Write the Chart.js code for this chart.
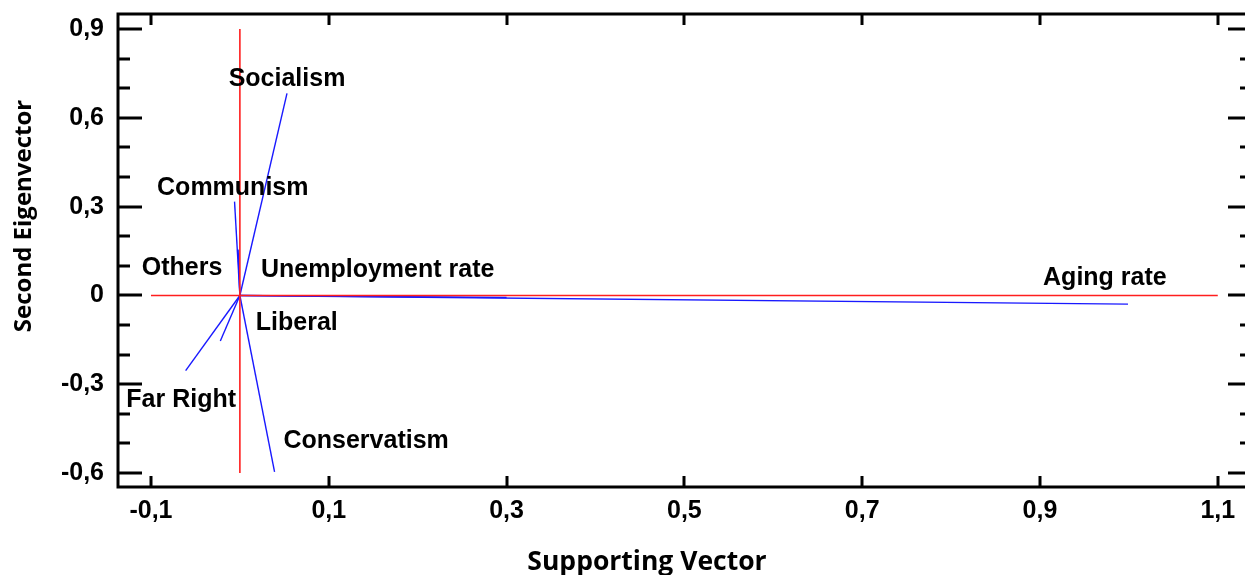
<!DOCTYPE html>
<html><head><meta charset="utf-8">
<script src="https://cdn.jsdelivr.net/npm/chart.js@4.4.0/dist/chart.umd.min.js"></script>
<style>html,body{margin:0;padding:0;background:#fff;overflow:hidden;width:1245px;height:575px}canvas{display:block}</style>
</head><body>
<canvas id="c" width="1260" height="575" style="width:1260px;height:575px"></canvas>
<script>
// ---- data ----
const variables = ['Socialism', 'Communism', 'Others', 'Unemployment rate', 'Aging rate', 'Liberal', 'Far Right', 'Conservatism'];
const supportingVector = [0.053, -0.006, -0.002, 0.300, 0.999, -0.022, -0.061, 0.039];
const secondEigenvector = [0.683, 0.317, 0.155, -0.007, -0.029, -0.154, -0.254, -0.596];
const labelX = [0.053, -0.008, -0.065, 0.155, 0.973, 0.064, -0.066, 0.142];
const labelY = [0.738, 0.368, 0.098, 0.091, 0.064, -0.088, -0.346, -0.485];
const xTicks = [-0.1, 0.1, 0.3, 0.5, 0.7, 0.9, 1.1];
const yTicks = [-0.6, -0.3, 0, 0.3, 0.6, 0.9];
const yMinorTicks = [-0.5, -0.4, -0.2, -0.1, 0.1, 0.2, 0.4, 0.5, 0.7, 0.8];
const xRefLine = [-0.1, 1.1];
const yRefLine = [-0.6, 0.9];
const xAxisTitle = 'Supporting Vector';
const yAxisTitle = 'Second Eigenvector';

const fmt = v => (Math.abs(v) < 1e-9 ? '0' : v.toFixed(1).replace('.', ','));

const datasets = [
  { data: [{x: xRefLine[0], y: 0}, {x: xRefLine[1], y: 0}], borderColor: 'rgb(255,30,30)', borderWidth: 1.6 },
  { data: [{x: 0, y: yRefLine[0]}, {x: 0, y: yRefLine[1]}], borderColor: 'rgb(255,30,30)', borderWidth: 1.6 }
];
variables.forEach((v, i) => {
  datasets.push({
    label: v,
    data: [{x: 0, y: 0}, {x: supportingVector[i], y: secondEigenvector[i]}],
    borderColor: 'rgb(25,25,255)', borderWidth: 1.4
  });
});
datasets.forEach(d => { d.showLine = true; d.pointRadius = 0; d.fill = false; });

const framePlugin = {
  id: 'frame',
  afterDatasetsDraw(chart) {
    const ctx = chart.ctx, a = chart.chartArea;
    const xs = chart.scales.x, ys = chart.scales.y;
    ctx.save();
    // vector labels
    ctx.fillStyle = '#000';
    ctx.font = 'bold 25px "Liberation Sans", Arial, sans-serif';
    ctx.textAlign = 'center'; ctx.textBaseline = 'middle';
    variables.forEach((v, i) => {
      ctx.fillText(v, xs.getPixelForValue(labelX[i]), ys.getPixelForValue(labelY[i]) + 2);
    });
    // frame
    ctx.strokeStyle = '#000'; ctx.lineWidth = 3; ctx.lineCap = 'butt';
    ctx.beginPath();
    ctx.moveTo(a.right, a.top); ctx.lineTo(a.left, a.top); ctx.lineTo(a.left, a.bottom); ctx.lineTo(a.right, a.bottom); ctx.lineTo(a.right, a.top);
    ctx.stroke();
    ctx.beginPath();
    xTicks.forEach(t => {
      const p = Math.round(xs.getPixelForValue(t));
      ctx.moveTo(p, a.top); ctx.lineTo(p, a.top + 11);
      ctx.moveTo(p, a.bottom); ctx.lineTo(p, a.bottom - 11);
    });
    yTicks.forEach(t => {
      const p = Math.round(ys.getPixelForValue(t));
      ctx.moveTo(a.left, p); ctx.lineTo(a.left + 24, p);
      ctx.moveTo(a.right, p); ctx.lineTo(a.right - 24, p);
    });
    yMinorTicks.forEach(t => {
      const p = Math.round(ys.getPixelForValue(t));
      ctx.moveTo(a.left, p); ctx.lineTo(a.left + 12, p);
      ctx.moveTo(a.right, p); ctx.lineTo(a.right - 12, p);
    });
    ctx.stroke();
    // axis titles
    ctx.font = 'bold 26.5px "Open Sans", sans-serif';
    ctx.textAlign = 'center'; ctx.textBaseline = 'alphabetic';
    ctx.fillText(xAxisTitle, 647, 570);
    ctx.save();
    ctx.translate(31, 216); ctx.rotate(-Math.PI / 2);
    ctx.font = 'bold 24px "Open Sans", sans-serif';
    ctx.fillText(yAxisTitle, 0, 0);
    ctx.restore();
    ctx.restore();
  }
};

const tickFont = { family: '"Liberation Sans", Arial, sans-serif', weight: 'bold', size: 25 };

new Chart(document.getElementById('c'), {
  type: 'scatter',
  data: { datasets },
  options: {
    responsive: false, animation: false,
    layout: { padding: { left: 0, top: 14, right: 8, bottom: 0 } },
    plugins: { legend: { display: false }, tooltip: { enabled: false } },
    scales: {
      x: {
        type: 'linear', min: -0.1371, max: 1.1385,
        grid: { display: false, drawTicks: false }, border: { display: false },
        ticks: { padding: 9, color: '#000', font: tickFont, callback: v => fmt(v), maxRotation: 0 },
        afterBuildTicks: s => { s.ticks = xTicks.map(v => ({ value: v })); },
        afterFit: s => { s.height = 88; s.paddingLeft = 0; s.paddingRight = 0; }
      },
      y: {
        type: 'linear', min: -0.647, max: 0.951,
        grid: { display: false, drawTicks: false }, border: { display: false },
        ticks: { padding: 14, color: '#000', font: tickFont, callback: v => fmt(v) },
        afterBuildTicks: s => { s.ticks = yTicks.map(v => ({ value: v })); },
        afterFit: s => { s.width = 118; s.paddingTop = 0; s.paddingBottom = 0; }
      }
    }
  },
  plugins: [framePlugin]
});
</script>
</body></html>
